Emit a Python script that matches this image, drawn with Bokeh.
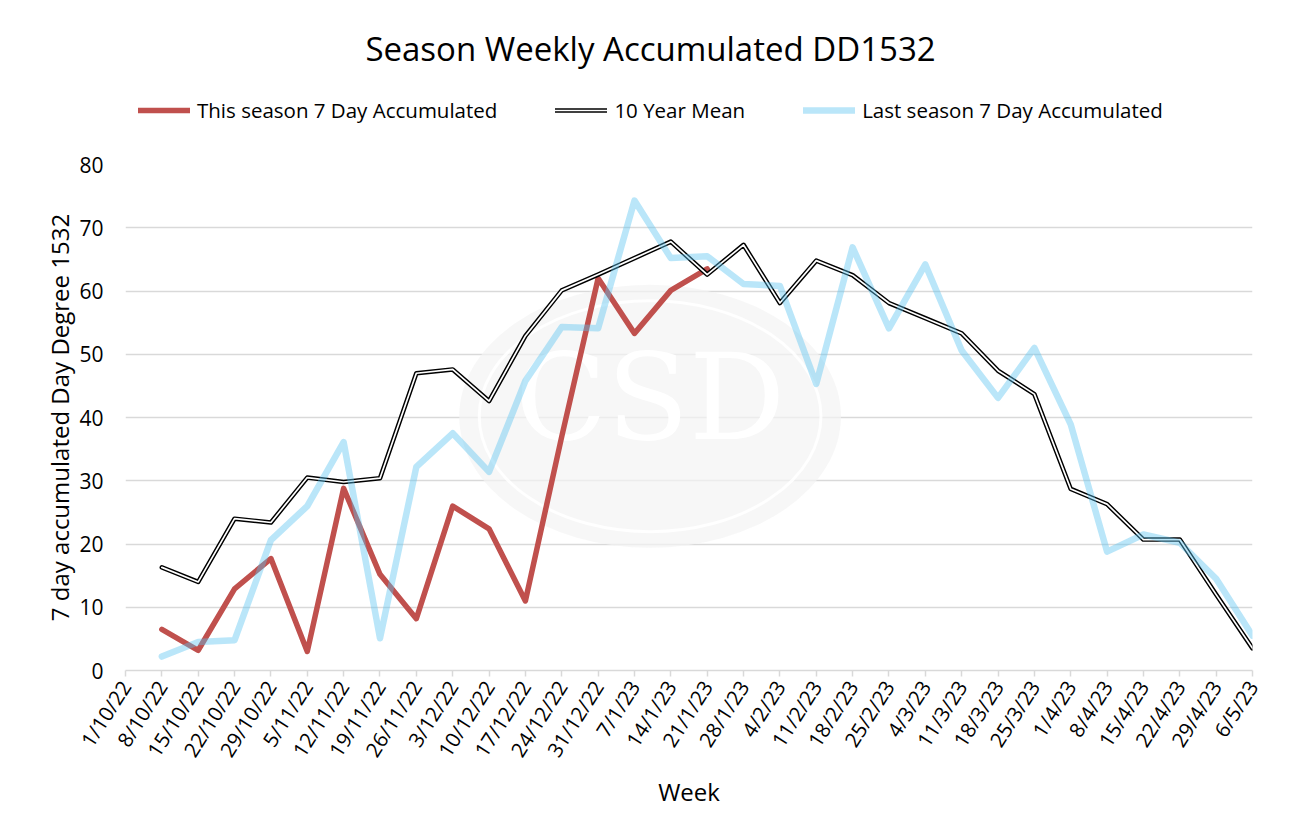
import numpy as np
from bokeh.plotting import figure
from bokeh.layouts import column
from bokeh.models import Legend, LegendItem, FixedTicker, Range1d, Label
from bokeh.embed import file_html
from bokeh.resources import INLINE
from bokeh.core.properties import value

weeks = ["1/10/22", "8/10/22", "15/10/22", "22/10/22", "29/10/22", "5/11/22", "12/11/22",
         "19/11/22", "26/11/22", "3/12/22", "10/12/22", "17/12/22", "24/12/22", "31/12/22",
         "7/1/23", "14/1/23", "21/1/23", "28/1/23", "4/2/23", "11/2/23", "18/2/23", "25/2/23",
         "4/3/23", "11/3/23", "18/3/23", "25/3/23", "1/4/23", "8/4/23", "15/4/23", "22/4/23",
         "29/4/23", "6/5/23"]

this_season = [None, 6.5, 3.2, 12.9, 17.7, 3.0, 28.8, 15.2, 8.2, 26.0, 22.4, 11.0, 37.0,
               62.0, 53.3, 60.1, 63.5] + [None] * 15

ten_year_mean = [None, 16.3, 14.0, 24.0, 23.4, 30.5, 29.8, 30.4, 47.0, 47.6, 42.6, 52.9, 60.1,
                 62.6, 65.2, 67.8, 62.6, 67.3, 58.1, 64.8, 62.5, 58.1, 55.7, 53.3, 47.4, 43.7,
                 28.7, 26.3, 20.7, 20.7, 12.0, 3.5]

last_season = [None, 2.2, 4.5, 4.8, 20.6, 26.0, 36.1, 5.1, 32.2, 37.5, 31.4, 45.8, 54.3,
               54.1, 74.3, 65.2, 65.5, 61.1, 60.8, 45.3, 66.9, 54.1, 64.2, 50.6, 43.1, 51.0,
               38.9, 18.8, 21.5, 20.2, 14.5, 5.5]

y_ticks = [0, 10, 20, 30, 40, 50, 60, 70, 80]

series_names = ["This season 7 Day Accumulated", "10 Year Mean", "Last season 7 Day Accumulated"]
chart_title = "Season Weekly Accumulated DD1532"

FONT = "Open Sans"
RED = dict(line_color="#C0504D", line_width=5.5, line_join="round", line_cap="round")
BLK = dict(line_color="black", line_width=4.6, line_join="round", line_cap="round")
WHT = dict(line_color="white", line_width=1.7, line_join="round", line_cap="round")
BLU = dict(line_color="#5BC4F0", line_alpha=0.42, line_width=6.5, line_join="round",
           line_cap="round")


def arr(v):
    return np.array([np.nan if a is None else a for a in v], dtype=float)


W = 1285
HEAD_H = 140
FRAME_LEFT = 125
FRAME_TOP = 164

# ---------- header (title + legend); its frame is aligned with the chart's frame ----------
head = figure(width=W, height=HEAD_H, output_backend="svg", toolbar_location=None, title=None,
              x_range=Range1d(0, 1), y_range=Range1d(0, 1), min_border=0,
              x_axis_location=None, y_axis_location=None)
head.outline_line_color = None
head.grid.visible = False
head.background_fill_color = "white"
head.border_fill_color = "white"

# legend-only renderers (their points lie outside the header's ranges)
h_red = head.line([5, 6], [5, 5], **RED)
h_blk = head.line([5, 6], [5, 5], **BLK)
h_wht = head.line([5, 6], [5, 5], **WHT)
h_blu = head.line([5, 6], [5, 5], **BLU)

head.add_layout(Label(x=650 - FRAME_LEFT, y=HEAD_H - 48, x_units="screen", y_units="screen",
                      text=chart_title, text_font=FONT, text_font_size="33px",
                      text_align="center", text_baseline="middle", text_color="black"))

legend = Legend(items=[LegendItem(label=series_names[0], renderers=[h_red]),
                       LegendItem(label=series_names[1], renderers=[h_blk, h_wht]),
                       LegendItem(label=series_names[2], renderers=[h_blu])],
                orientation="horizontal", location=(138 - FRAME_LEFT, HEAD_H - 124),
                glyph_width=52, glyph_height=24, label_height=24, label_standoff=7,
                spacing=58, padding=0, margin=0, border_line_color=None,
                background_fill_alpha=0, label_text_font=FONT,
                label_text_font_size="20.5px", label_text_color="black")
head.add_layout(legend, "center")

# ---------- main chart ----------
xs = np.arange(len(weeks))

p = figure(width=W, height=824 - HEAD_H, output_backend="svg", toolbar_location=None,
           title=None, x_range=Range1d(0, len(weeks) - 1), y_range=Range1d(0, 80),
           min_border_left=FRAME_LEFT, min_border_right=33, min_border_top=FRAME_TOP - HEAD_H,
           min_border_bottom=154)
p.outline_line_color = None
p.background_fill_color = "white"
p.border_fill_color = "white"

# faint watermark logo
wm_x, wm_y = 14.43, 40.2
p.ellipse(x=[wm_x], y=[wm_y], width=10.5, height=41.6, fill_color="#F3F3F3", fill_alpha=0.7,
          line_color=None)
p.ellipse(x=[wm_x], y=[wm_y], width=9.4, height=36.5, fill_color=None, line_color="white",
          line_width=3, line_alpha=0.9)
p.text(x=[wm_x], y=[wm_y + 3], text=["CSD"], text_font=value("DejaVu Serif"),
       text_font_size="120px", text_color="white", text_align="center", text_baseline="middle")

p.line(xs, arr(this_season), **RED)
p.line(xs, arr(ten_year_mean), **BLK)
p.line(xs, arr(ten_year_mean), **WHT)
p.line(xs, arr(last_season), **BLU)

# x axis
p.xaxis.ticker = FixedTicker(ticks=list(xs))
p.xaxis.major_label_overrides = {int(i): w for i, w in enumerate(weeks)}
p.xaxis.major_label_orientation = 1.0
p.xaxis.axis_line_color = "#D9D9D9"
p.xaxis.axis_line_width = 1.5
p.xaxis.major_tick_line_color = "#D9D9D9"
p.xaxis.major_tick_line_width = 1.5
p.xaxis.major_tick_out = 6
p.xaxis.major_tick_in = 0
p.xaxis.minor_tick_line_color = None
p.xaxis.major_label_standoff = 6
p.xaxis.major_label_text_font = FONT
p.xaxis.major_label_text_font_size = "20.5px"
p.xaxis.major_label_text_color = "black"
p.xaxis.axis_label = "Week"
p.xaxis.axis_label_text_font = FONT
p.xaxis.axis_label_text_font_size = "24px"
p.xaxis.axis_label_text_font_style = "normal"
p.xaxis.axis_label_text_color = "black"
p.xaxis.axis_label_standoff = 3

# y axis
p.yaxis.ticker = FixedTicker(ticks=y_ticks)
p.yaxis.axis_line_color = None
p.yaxis.major_tick_line_color = None
p.yaxis.minor_tick_line_color = None
p.yaxis.major_label_standoff = 16
p.yaxis.major_label_text_font = FONT
p.yaxis.major_label_text_font_size = "21px"
p.yaxis.major_label_text_color = "black"
p.yaxis.axis_label = "7 day accumulated Day Degree 1532"
p.yaxis.axis_label_text_font = FONT
p.yaxis.axis_label_text_font_size = "24px"
p.yaxis.axis_label_text_font_style = "normal"
p.yaxis.axis_label_text_color = "black"
p.yaxis.axis_label_standoff = 0

p.xgrid.grid_line_color = None
p.ygrid.grid_line_color = "#D9D9D9"
p.ygrid.grid_line_width = 1.4

layout = column(head, p, spacing=0)
open("out.html", "w").write(file_html(layout, INLINE))
